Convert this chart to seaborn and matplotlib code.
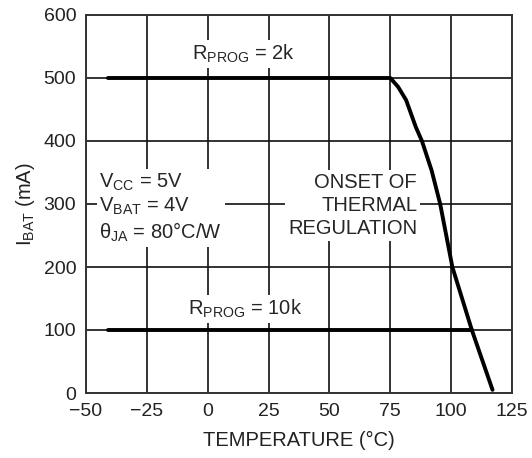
import matplotlib
matplotlib.use("Agg")
import matplotlib.pyplot as plt
import seaborn as sns
import pandas as pd

# Data
temp_2k = [-41, 75, 78.2, 81.5, 85.5, 88, 92, 95.5, 100.5, 108.5, 117]
ibat_2k = [500, 500, 486, 465, 422, 400, 353, 300, 200, 100, 5]
temp_10k = [-41, 108.5]
ibat_10k = [100, 100]
x_ticks = [-50, -25, 0, 25, 50, 75, 100, 125]
y_ticks = [0, 100, 200, 300, 400, 500, 600]

sns.set_theme(style="white")
fam = 'Liberation Sans'
plt.rcParams['font.family'] = [fam, 'DejaVu Sans']
plt.rcParams['mathtext.fontset'] = 'custom'
plt.rcParams['mathtext.rm'] = fam
plt.rcParams['mathtext.default'] = 'regular'
fs = 14
tfs = 14.5

df = pd.concat([
    pd.DataFrame({"T": temp_2k, "I": ibat_2k, "s": "2k"}),
    pd.DataFrame({"T": temp_10k, "I": ibat_10k, "s": "10k"}),
], ignore_index=True)

fig = plt.figure(figsize=(5.32, 4.58), dpi=100)
ax = fig.add_axes([86/532, 65/458, (512-86)/532, (393-15)/458])

ax.set_xlim(-50, 125)
ax.set_ylim(0, 600)
ax.set_xticks(x_ticks)
ax.set_yticks(y_ticks)
ax.set_xticklabels([str(v).replace('-', '\u2212') for v in x_ticks])
ax.grid(True, color='#111111', linewidth=1.2, zorder=0)
ax.set_axisbelow(True)
for sp in ax.spines.values():
    sp.set_color('#333333')
    sp.set_linewidth(1.4)
ax.tick_params(length=0, labelsize=fs, colors='#222222', pad=7)

sns.lineplot(data=df, x="T", y="I", units="s", estimator=None, sort=False,
             color='black', linewidth=2.8, ax=ax, zorder=3)

box = dict(facecolor='white', edgecolor='none', pad=2.0)
ax.text(14.5, 538, r"R$_{PROG}$ = 2k", ha='center', va='center', fontsize=tfs,
        bbox=box, zorder=2)
ax.text(15.5, 133, r"R$_{PROG}$ = 10k", ha='center', va='center', fontsize=tfs,
        bbox=box, zorder=2)
ax.text(-44.5, 294, "V$_{CC}$ = 5V\nV$_{BAT}$ = 4V\n\u03b8$_{JA}$ = 80\u00b0C/W",
        ha='left', va='center', fontsize=tfs, linespacing=1.2, bbox=box, zorder=2)
ax.text(86, 298, "ONSET OF\nTHERMAL\nREGULATION", ha='right', va='center',
        multialignment='right', fontsize=tfs, linespacing=1.28, bbox=box, zorder=2)

ax.set_xlabel("TEMPERATURE (\u00b0C)", fontsize=tfs, labelpad=8, color='#222222')
ax.set_ylabel("I$_{BAT}$ (mA)", fontsize=tfs, labelpad=5, color='#222222')

fig.savefig("out.png", dpi=100)
